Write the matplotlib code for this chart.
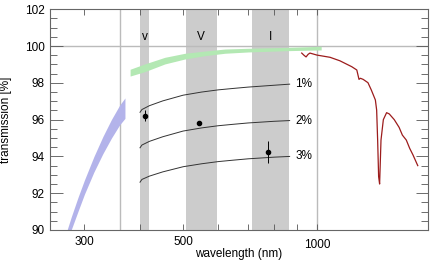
import matplotlib
matplotlib.use("Agg")
import matplotlib.pyplot as plt
from matplotlib.ticker import FixedLocator, MultipleLocator, NullFormatter, FixedFormatter

plt.rcParams["font.family"] = ["Liberation Sans", "DejaVu Sans"]

# filter bands (nm)
band_names = ["v", "V", "I"]
band_lo = [401, 507, 715]
band_hi = [419, 595, 864]

# UV band
uv_lam = [266, 280, 290, 300, 315, 330, 345, 360, 370]
uv_hi = [89.0, 90.69, 91.76, 92.72, 93.99, 95.08, 96.01, 96.79, 97.18]
uv_lo = [88.35, 90.0, 91.0, 91.95, 93.15, 94.15, 95.0, 95.72, 96.07]

# green band
green_lam = [380, 410, 455, 505, 560, 621, 700, 855, 1022]
green_hi = [98.74, 99.03, 99.39, 99.61, 99.73, 99.84, 99.88, 99.93, 99.99]
green_lo = [98.37, 98.61, 99.03, 99.30, 99.48, 99.61, 99.68, 99.75, 99.79]

# red curve
red_lam = [924, 935, 945, 955, 964, 1000, 1070, 1126, 1197, 1229, 1243, 1252, 1270,
           1302, 1325, 1353, 1362, 1369, 1376, 1383, 1393, 1410, 1434, 1454, 1492,
           1530, 1556, 1588, 1616, 1644, 1685]
red_T = [99.62, 99.5, 99.41, 99.55, 99.62, 99.51, 99.39, 99.2, 98.88, 98.70, 98.19,
         98.25, 98.19, 98.01, 97.61, 97.07, 96.52, 94.89, 92.9, 92.50, 94.89, 96.0,
         96.38, 96.31, 96.0, 95.58, 95.16, 94.89, 94.44, 94.08, 93.5]

# model curves
curve_lam = [400, 404, 420, 450, 500, 550, 600, 650, 700, 800, 868]
t1 = [96.40, 96.55, 96.76, 97.02, 97.33, 97.50, 97.62, 97.70, 97.77, 97.87, 97.93]
t2 = [94.47, 94.62, 94.82, 95.07, 95.38, 95.55, 95.67, 95.75, 95.82, 95.91, 95.95]
t3 = [92.60, 92.75, 92.93, 93.16, 93.44, 93.60, 93.72, 93.80, 93.87, 93.96, 94.00]
curve_labels = ["1%", "2%", "3%"]

# measurements
pt_lam = [410, 543, 777]
pt_T = [96.2, 95.8, 94.22]
pt_err = [0.3, 0.0, 0.6]

fig = plt.figure(figsize=(4.36, 2.68), dpi=100)
ax = fig.add_axes([0.1147, 0.1418, 0.8670, 0.8235])
ax.set_xscale("log")
ax.set_xlim(251, 1777)
ax.set_ylim(90, 102)

for lo, hi, name in zip(band_lo, band_hi, band_names):
    ax.axvspan(lo, hi, color="#cccccc", lw=0, zorder=0)
    ax.text((lo * hi) ** 0.5, 100.5, name, ha="center", va="center", fontsize=8.5)

ax.axvline(360, color="#bbbbbb", lw=1.0, zorder=1)
ax.axvline(1000, color="#bbbbbb", lw=1.0, zorder=1)
ax.axhline(100, color="#bbbbbb", lw=1.0, zorder=1)

ax.fill_between(uv_lam, uv_lo, uv_hi, color="#b3b3ea", lw=0, zorder=2)
ax.fill_between(green_lam, green_lo, green_hi, color="#b3e8b3", lw=0, zorder=2)
ax.plot(red_lam, red_T, color="#9c1c1c", lw=0.9, zorder=3)

for t, lab in zip([t1, t2, t3], curve_labels):
    ax.plot(curve_lam, t, color="#333333", lw=0.7, zorder=3)
    ax.text(894, t[-1], lab, ha="left", va="center", fontsize=8.5)

ax.errorbar(pt_lam, pt_T, yerr=pt_err, fmt="o", color="black", ms=3,
            elinewidth=0.7, capsize=0, zorder=4)

ax.xaxis.set_major_locator(FixedLocator([300, 400, 500, 600, 700, 800, 900, 1000]))
ax.xaxis.set_major_formatter(FixedFormatter(["300", "", "500", "", "", "", "", "1000"]))
ax.xaxis.set_minor_locator(FixedLocator([]))
ax.xaxis.set_minor_formatter(NullFormatter())
ax.yaxis.set_major_locator(MultipleLocator(2))
ax.yaxis.set_minor_locator(MultipleLocator(0.5))

ax.tick_params(axis="x", which="major", direction="in", length=4.6, width=0.6,
               top=True, color="#555555", labelsize=8.5, pad=4)
ax.tick_params(axis="y", which="major", direction="in", length=9, width=0.6,
               right=True, color="#555555", labelsize=8.5, pad=4)
ax.tick_params(axis="y", which="minor", direction="in", length=4.8, width=0.6,
               right=True, color="#555555")
ax.xaxis.get_major_ticks()[-1].set_pad(6.5)

for s in ax.spines.values():
    s.set_color("#666666")
    s.set_linewidth(0.8)

ax.set_xlabel("wavelength (nm)", fontsize=8.5)
ax.set_ylabel("transmission [%]", fontsize=8.5)
ax.xaxis.set_label_coords(0.5, -0.08)
ax.yaxis.set_label_coords(-0.1, 0.5)

fig.savefig("out.png", dpi=100)
